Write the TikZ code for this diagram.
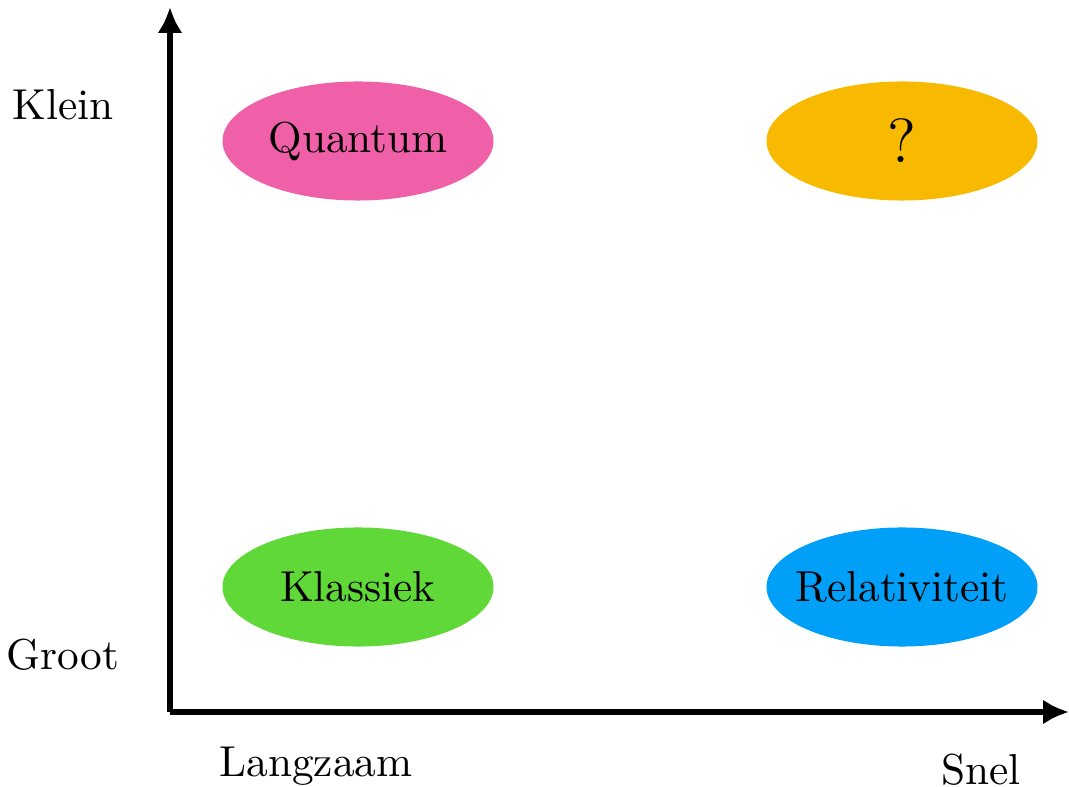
\documentclass[tikz,border=0pt]{standalone}
\usepackage{tikz}
\usetikzlibrary{shapes.geometric, arrows.meta}

\definecolor{quantumpink}{RGB}{240,96,168}
\definecolor{vraaggeel}{RGB}{247,186,0}
\definecolor{klassiekgroen}{RGB}{96,216,56}
\definecolor{relblauw}{RGB}{0,160,248}

\tikzset{
    gebied/.style={ellipse, minimum width=62.6pt, minimum height=27.5pt, inner sep=0pt},
    as/.style={line width=1.2pt, -{Latex[length=6pt, width=5.8pt]}}
}

\begin{document}
\begin{tikzpicture}[x=0.231pt, y=0.231pt]
    \useasboundingbox (0,0) rectangle (1069,787);

    % Assen
    \coordinate (O) at (170,75);
    \coordinate (ytop) at (170,780);
    \coordinate (xend) at (1069,75);
    \draw[as] (O) -- (ytop);
    \draw[as] (O) -- (xend);

    % Aslabels
    \node (klein) at (63,682) {Klein};
    \node (groot) at (63,132) {Groot};
    \node (langzaam) at (316,21) {Langzaam};
    \node (snel) at (981,17) {Snel};

    % Gebieden
    \node[gebied, fill=quantumpink] (quantum) at (358,646) {Quantum};
    \node[gebied, fill=vraaggeel] (vraag) at (902,646) {\Large ?};
    \node[gebied, fill=klassiekgroen] (klassiek) at (358,200) {Klassiek};
    \node[gebied, fill=relblauw] (rel) at (902,200) {\makebox[0pt]{Relativiteit}};
\end{tikzpicture}
\end{document}
